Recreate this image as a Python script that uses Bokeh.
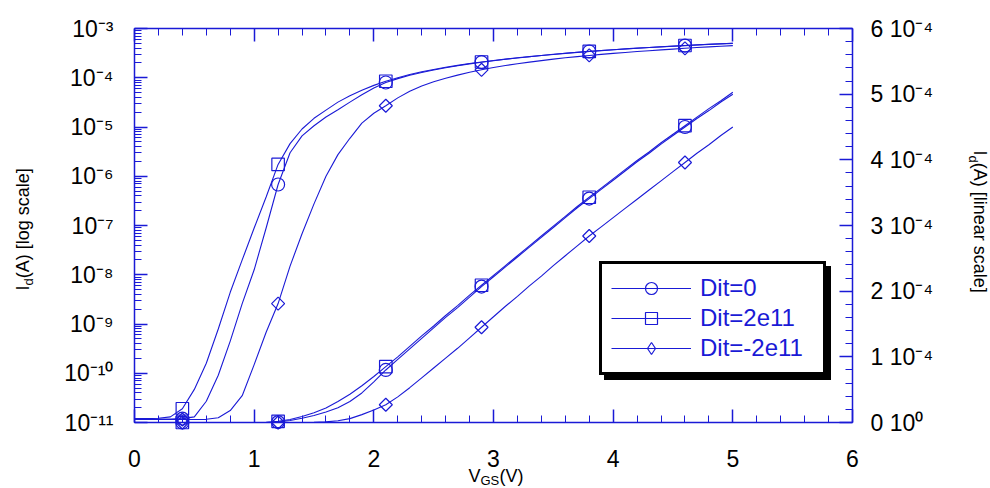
import math
import numpy as np
from bokeh.plotting import figure
from bokeh.models import (Range1d, LinearAxis, LinearScale, FixedTicker, SingleIntervalTicker,
                          Label, Legend, LegendItem)
from bokeh.embed import file_html
from bokeh.resources import INLINE

# ---------------- data ----------------
vgs = [0.0, 0.1, 0.2, 0.3, 0.4, 0.5, 0.6, 0.7, 0.8, 0.9,
       1.0, 1.1, 1.2, 1.3, 1.4, 1.5, 1.6, 1.7, 1.8, 1.9,
       2.0, 2.1, 2.2, 2.3, 2.4, 2.5, 2.6, 2.7, 2.8, 2.9,
       3.0, 3.1, 3.2, 3.3, 3.4, 3.5, 3.6, 3.7, 3.8, 3.9,
       4.0, 4.1, 4.2, 4.3, 4.4, 4.5, 4.6, 4.7, 4.8, 4.9, 5.0]

id_dit_0 = [1.17e-11, 1.17e-11, 1.17e-11, 1.18e-11, 1.2e-11, 1.3e-11, 2.7e-11, 9.1e-11, 4.5e-10, 2.6e-9,
            1.26e-8, 8.9e-8, 6.8e-7, 3.0e-6, 6.6e-6, 1.06e-5, 1.6e-5, 2.24e-5, 3.2e-5, 4.5e-5,
            6.2e-5, 8.0e-5, 9.6e-5, 1.12e-4, 1.28e-4, 1.44e-4, 1.60e-4, 1.75e-4, 1.91e-4, 2.07e-4,
            2.22e-4, 2.37e-4, 2.52e-4, 2.67e-4, 2.82e-4, 2.97e-4, 3.12e-4, 3.27e-4, 3.41e-4, 3.55e-4,
            3.69e-4, 3.83e-4, 3.97e-4, 4.10e-4, 4.24e-4, 4.37e-4, 4.50e-4, 4.63e-4, 4.75e-4, 4.88e-4, 5.00e-4]

id_dit_p2e11 = [1.2e-11, 1.2e-11, 1.22e-11, 1.3e-11, 1.9e-11, 4.7e-11, 1.6e-10, 7.9e-10, 4.4e-9, 2.0e-8,
                8.9e-8, 3.8e-7, 1.74e-6, 4.6e-6, 9.1e-6, 1.5e-5, 2.2e-5, 3.2e-5, 4.3e-5, 5.6e-5,
                7.0e-5, 8.5e-5, 1.00e-4, 1.16e-4, 1.32e-4, 1.47e-4, 1.63e-4, 1.78e-4, 1.94e-4, 2.09e-4,
                2.24e-4, 2.39e-4, 2.54e-4, 2.69e-4, 2.84e-4, 2.99e-4, 3.14e-4, 3.29e-4, 3.43e-4, 3.57e-4,
                3.71e-4, 3.85e-4, 3.99e-4, 4.12e-4, 4.26e-4, 4.39e-4, 4.52e-4, 4.65e-4, 4.78e-4, 4.90e-4, 5.03e-4]

id_dit_m2e11 = [1.15e-11, 1.15e-11, 1.15e-11, 1.15e-11, 1.15e-11, 1.15e-11, 1.16e-11, 1.25e-11, 1.75e-11, 3.5e-11,
                1.5e-10, 6.8e-10, 2.6e-9, 1.5e-8, 6.8e-8, 2.75e-7, 1.0e-6, 2.75e-6, 5.9e-6, 1.2e-5,
                1.9e-5, 2.7e-5, 3.9e-5, 5.3e-5, 6.8e-5, 8.3e-5, 9.8e-5, 1.13e-4, 1.29e-4, 1.45e-4,
                1.61e-4, 1.77e-4, 1.92e-4, 2.08e-4, 2.23e-4, 2.39e-4, 2.54e-4, 2.69e-4, 2.84e-4, 2.98e-4,
                3.12e-4, 3.26e-4, 3.40e-4, 3.54e-4, 3.68e-4, 3.82e-4, 3.96e-4, 4.10e-4, 4.23e-4, 4.37e-4, 4.50e-4]

marker_vgs = [0.4, 1.2, 2.1, 2.9, 3.8, 4.6]

series_names = ["Dit=0", "Dit=2e11", "Dit=-2e11"]

log_ticks = [1e-11, 1e-10, 1e-9, 1e-8, 1e-7, 1e-6, 1e-5, 1e-4, 1e-3]
log_tick_labels = ["10\u207b\u00b9\u00b9", "10\u207b\u00b9\u2070", "10\u207b\u2079", "10\u207b\u2078",
                   "10\u207b\u2077", "10\u207b\u2076", "10\u207b\u2075", "10\u207b\u2074", "10\u207b\u00b3"]
lin_ticks = [0.0, 1e-4, 2e-4, 3e-4, 4e-4, 5e-4, 6e-4]
lin_tick_labels = ["0 10\u2070", "1 10\u207b\u2074", "2 10\u207b\u2074", "3 10\u207b\u2074",
                   "4 10\u207b\u2074", "5 10\u207b\u2074", "6 10\u207b\u2074"]

# ---------------- layout constants ----------------
W, H = 990, 488
AX_L, AX_R, AX_T, AX_B = 134, 852, 28, 422      # pixel position of the four axis lines
X_MIN, X_MAX = 0.0, 6.0
LOG_LO, LOG_HI = -11, -3
LIN_LO, LIN_HI = 0.0, 6e-4

ppx = (AX_R - AX_L) / (X_MAX - X_MIN)
ppd = (AX_B - AX_T) / (LOG_HI - LOG_LO)
ppl = (AX_B - AX_T) / (LIN_HI - LIN_LO)

BLUE = "#1a1ad6"
FONT = "Liberation Sans"

p = figure(width=W, height=H, output_backend="svg", toolbar_location=None, title=None,
           x_range=Range1d(X_MIN - AX_L / ppx, X_MAX + (W - AX_R) / ppx),
           y_range=Range1d(10 ** (LOG_LO - (H - AX_B) / ppd), 10 ** (LOG_HI + AX_T / ppd)),
           y_axis_type="log", min_border=0,
           min_border_left=0, min_border_right=0, min_border_top=0, min_border_bottom=0)
p.extra_y_ranges = {"lin": Range1d(LIN_LO - (H - AX_B) / ppl, LIN_HI + AX_T / ppl)}
p.extra_y_scales = {"lin": LinearScale()}
p.outline_line_color = None
p.xgrid.visible = False
p.ygrid.visible = False
p.background_fill_color = "white"
p.border_fill_color = "white"


def style_axis(ax):
    ax.axis_line_color = BLUE
    ax.axis_line_width = 1.5
    ax.major_tick_line_color = BLUE
    ax.major_tick_line_width = 1.5
    ax.minor_tick_line_color = BLUE
    ax.minor_tick_line_width = 1
    ax.major_tick_in = 13
    ax.major_tick_out = 0
    ax.minor_tick_in = 7
    ax.minor_tick_out = 0
    ax.major_label_text_font = FONT
    ax.major_label_text_font_size = "23px"
    ax.major_label_text_color = "black"


# bottom axis
xax = p.xaxis[0]
xax.ticker = SingleIntervalTicker(interval=1, num_minor_ticks=5)
xax.fixed_location = 10.0 ** LOG_LO
xax.bounds = (X_MIN, X_MAX)
style_axis(xax)
xax.major_label_standoff = 27

# top axis (ticks only)
top = LinearAxis(ticker=SingleIntervalTicker(interval=1, num_minor_ticks=5),
                 fixed_location=10.0 ** LOG_HI, bounds=(X_MIN, X_MAX))
style_axis(top)
top.major_label_text_color = None
top.major_label_text_font_size = "1px"
top.major_label_standoff = 0
p.add_layout(top, "above")

# left log axis
log_minor = [m * t for t in log_ticks[:-1] for m in range(2, 10)]
yax = p.yaxis[0]
yax.ticker = FixedTicker(ticks=log_ticks, minor_ticks=log_minor)
yax.major_label_overrides = dict(zip(log_ticks, log_tick_labels))
yax.fixed_location = X_MIN
yax.bounds = (10.0 ** LOG_LO, 10.0 ** LOG_HI)
style_axis(yax)
yax.major_label_standoff = 21

# right linear axis
lin_minor = [t + k * 2e-5 for t in lin_ticks[:-1] for k in range(1, 5)]
rax = LinearAxis(y_range_name="lin", ticker=FixedTicker(ticks=lin_ticks, minor_ticks=lin_minor),
                 fixed_location=X_MAX, bounds=(LIN_LO, LIN_HI))
rax.major_label_overrides = dict(zip(lin_ticks, lin_tick_labels))
style_axis(rax)
rax.major_label_standoff = 18
p.add_layout(rax, "right")

# ---------------- glyphs ----------------
marker_specs = [dict(marker="circle", size=13, angle=0.0, legend_marker=None),
                dict(marker="square", size=12.5, angle=0.0, legend_marker=None),
                dict(marker="square", size=9.2, angle=math.pi / 4, legend_marker="diamond")]

legend_renderers = []
for name, vals, spec in zip(series_names, [id_dit_0, id_dit_p2e11, id_dit_m2e11], marker_specs):
    mvals = [vals[vgs.index(v)] for v in marker_vgs]
    # log scale (left axis)
    l1 = p.line(vgs, vals, line_color=BLUE, line_width=1.1)
    s1 = p.scatter(marker_vgs, mvals, marker=spec["marker"], size=spec["size"], angle=spec["angle"],
                   fill_color=None, line_color=BLUE, line_width=1.2)
    # linear scale (right axis)
    p.line(vgs, vals, line_color=BLUE, line_width=1.1, y_range_name="lin")
    p.scatter(marker_vgs, mvals, marker=spec["marker"], size=spec["size"], angle=spec["angle"],
              fill_color=None, line_color=BLUE, line_width=1.2, y_range_name="lin")
    if spec["legend_marker"] is not None:
        # legend-only proxy glyph (no visible point): an upright diamond for the legend box
        s1 = p.scatter(x=np.array([np.nan]), y=np.array([np.nan]), marker=spec["legend_marker"],
                       size=12, fill_color=None, line_color=BLUE, line_width=1.2)
    legend_renderers.append((name, [l1, s1]))


def make_legend(loc, shadow=False):
    items = [LegendItem(label=(" " if shadow else n), renderers=r) for n, r in legend_renderers]
    lg = Legend(items=items, location=loc, orientation="vertical",
                label_text_font=FONT, label_text_font_size="24px", label_text_color=BLUE,
                glyph_width=80, glyph_height=30, label_standoff=9, label_width=114,
                padding=9, spacing=0, margin=0,
                border_line_color="black", border_line_width=3, border_line_alpha=1.0,
                background_fill_color="black" if shadow else "white", background_fill_alpha=1.0)
    return lg


p.add_layout(make_legend((604, H - 380), shadow=True))
p.add_layout(make_legend((599, H - 375)))

# ---------------- axis titles (with subscripts) ----------------
def lab(text, x, y, size, angle=0.0):
    p.add_layout(Label(x=x, y=H - y, x_units="screen", y_units="screen", text=text, angle=angle,
                       text_font=FONT, text_font_size=size, text_color="black",
                       text_align="left", text_baseline="alphabetic"))

# left: I_d(A) [log scale]   (x = baseline anchor, y = start, in page pixels)
lab("I", 22, 290, "18px", math.pi / 2)
lab("d", 28, 285, "13px", math.pi / 2)
lab("(A) [log scale]", 22, 277.8, "18px", math.pi / 2)
# right: I_d(A) [linear scale]
lab("I", 979, 150, "18px", -math.pi / 2)
lab("d", 973, 155, "13px", -math.pi / 2)
lab("(A) [linear scale]", 979, 162.2, "18px", -math.pi / 2)
# bottom: V_GS(V)
lab("V", 468, 475, "18px")
lab("GS", 480, 480, "13px")
lab("(V)", 499, 475, "18px")

open("out.html", "w").write(file_html(p, INLINE))
